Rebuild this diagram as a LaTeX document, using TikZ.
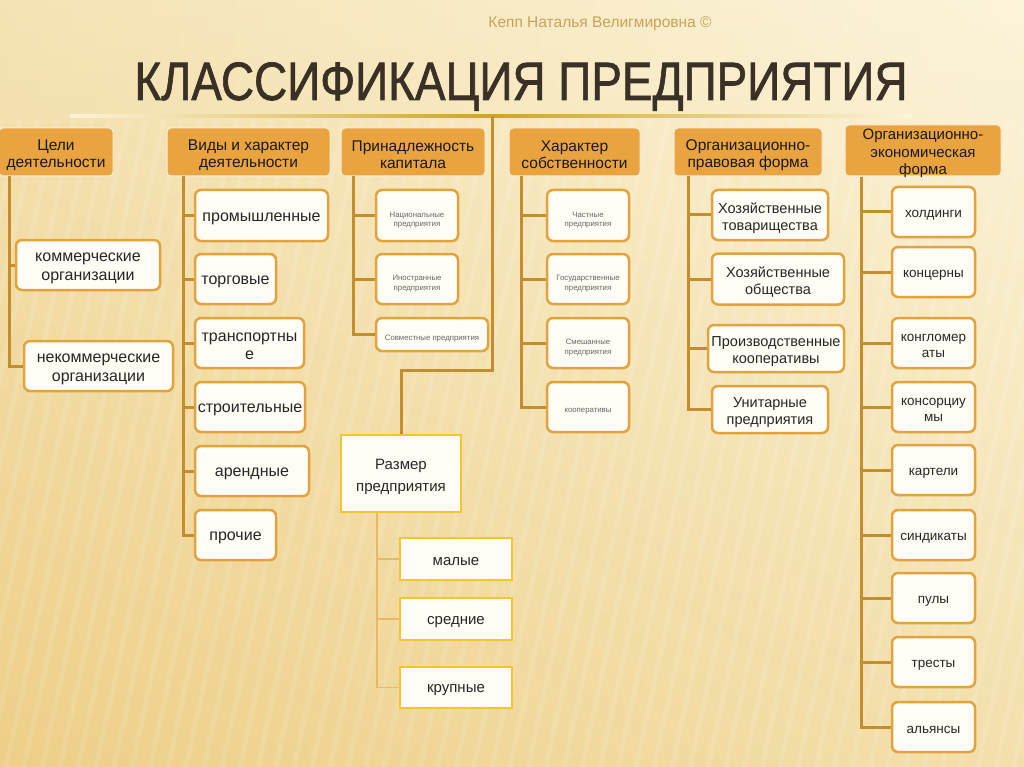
\documentclass[tikz,border=0pt]{standalone}
\usepackage{fontspec}
\setmainfont{Liberation Sans}
\newfontfamily\titlefont{Liberation Sans}[FakeBold=1.3]
\definecolor{hdr}{HTML}{E9A43F}
\definecolor{brd}{HTML}{E2A33E}
\definecolor{ln}{HTML}{C48E2E}
\definecolor{thin}{HTML}{EAB865}
\definecolor{ttl}{HTML}{3A3026}
\definecolor{sub}{HTML}{C9A35A}
\definecolor{ylw}{HTML}{F3C530}
\definecolor{bgtop}{HTML}{FCF4DA}
\definecolor{bgbot}{HTML}{EDCF88}
\definecolor{boxfill}{HTML}{FFFDF6}
% box with separately placed text: style, name, x, y, w, h, text style, text
\newcommand\bx[8]{%
  \node[#1, minimum width=#5, minimum height=#6] (#2) at (#3,#4) {};
  \node[#7] (#2t) at (#3,#4) {#8};}
\begin{document}
\begin{tikzpicture}[x=1pt,y=-1pt,
  hdrbox/.style={draw=white!80!hdr, line width=1pt, fill=hdr, rounded corners=4pt, inner sep=0pt},
  kid/.style={draw=brd, line width=2.5pt, fill=boxfill, rounded corners=6pt, inner sep=0pt},
  sizebox/.style={draw=ylw, line width=2.5pt, fill=boxfill, inner sep=0pt},
  tx/.style={align=center, inner sep=0pt, text=black!85, yshift=-3pt},
  hdrtx/.style={tx, text=black!90, yshift=0pt, font=\fontsize{15.5}{17}\selectfont},
  kidtx/.style={tx, font=\fontsize{16}{19}\selectfont},
  kidmtx/.style={tx, font=\fontsize{14.5}{17}\selectfont},
  kidstx/.style={tx, font=\fontsize{13.5}{15.5}\selectfont},
  tinytx/.style={tx, text=black!60, yshift=-1.5pt, font=\fontsize{7.8}{9.5}\selectfont},
  sizetx/.style={tx, font=\fontsize{15}{22}\selectfont},
  conn/.style={draw=ln, line width=3pt},
  thinconn/.style={draw=thin, line width=1.2pt}
]
% background
\shade[top color=bgtop, bottom color=bgbot] (0,0) rectangle (1024,767);
\shade[left color=bgbot, right color=bgtop, opacity=0.45] (0,0) rectangle (1024,767);
\begin{scope}
\clip (0,0) rectangle (1024,767);
\foreach \i in {-300,-282,...,1024} {
  \draw[white, opacity=0.10, line width=5pt] (\i,767) -- (\i+140,120);
}
\end{scope}
\useasboundingbox (0,0) rectangle (1024,767);

% titles
\node[font=\fontsize{15.5}{16}\selectfont, text=sub, anchor=base] (author) at (600,28)
  {Кепп Наталья Велигмировна ©};
\node[font=\titlefont\fontsize{54}{54}\selectfont, text=ttl, anchor=base, inner sep=0pt] (title) at (521,100)
  {\scalebox{0.85}[1]{КЛАССИФИКАЦИЯ ПРЕДПРИЯТИЯ}};
\shade[left color=bgtop, right color=bgtop, middle color=ln!80!yellow] (70,114.8) rectangle (912,117.2);

% headers
\bx{hdrbox}{h1}{56}{152}{114}{48}{hdrtx}{Цели\\деятельности}
\bx{hdrbox}{h2}{248.5}{152}{163}{48}{hdrtx}{Виды и характер\\деятельности}
\bx{hdrbox}{h3}{413}{152}{144}{48}{hdrtx}{Принадлежность\\капитала}
\bx{hdrbox}{h4}{574.5}{152}{131}{48}{hdrtx}{Характер\\собственности}
\bx{hdrbox}{h5}{748}{152}{148}{48}{hdrtx}{Организационно-\\правовая форма}
\bx{hdrbox}{h6}{923}{150.5}{156}{51}{hdrtx, font=\fontsize{15}{17.5}\selectfont}{Организационно-\\экономическая\\форма}

% column 1
\bx{kid}{a1}{88}{265}{144}{50}{kidtx}{коммерческие\\организации}
\bx{kid}{a2}{98.5}{366}{149}{50}{kidtx}{некоммерческие\\организации}

% column 2
\bx{kid}{b1}{261.5}{215.5}{133}{51}{kidtx}{промышленные}
\bx{kid}{b2}{235.5}{279}{81}{50}{kidtx}{торговые}
\bx{kid}{b3}{249.5}{343}{109}{50}{kidtx, font=\fontsize{16}{18}\selectfont}{транспортны\\е}
\bx{kid}{b4}{250}{407}{110}{50}{kidtx}{строительные}
\bx{kid}{b5}{252}{471}{114}{50}{kidtx}{арендные}
\bx{kid}{b6}{235.5}{535}{81}{50}{kidtx}{прочие}

% column 3
\bx{kid}{c1}{417}{215.5}{82}{51}{tinytx}{Национальные\\предприятия}
\bx{kid}{c2}{417}{279}{82}{50}{tinytx}{Иностранные\\предприятия}
\bx{kid}{c3}{432}{334.5}{112}{33}{tinytx}{Совместные предприятия}

% column 4
\bx{kid}{d1}{588}{215.5}{82}{51}{tinytx}{Частные\\предприятия}
\bx{kid}{d2}{588}{279}{82}{50}{tinytx}{Государственные\\предприятия}
\bx{kid}{d3}{588}{343}{82}{50}{tinytx}{Смешанные\\предприятия}
\bx{kid}{d4}{588}{407}{82}{50}{tinytx}{кооперативы}

% column 5
\bx{kid}{e1}{770}{215}{116}{50}{kidmtx}{Хозяйственные\\товарищества}
\bx{kid}{e2}{778}{279}{132}{51}{kidmtx}{Хозяйственные\\общества}
\bx{kid}{e3}{776}{348.5}{136}{47}{kidmtx}{Производственные\\кооперативы}
\bx{kid}{e4}{770}{409.5}{116}{47}{kidmtx}{Унитарные\\предприятия}

% column 6
\bx{kid}{f1}{933.5}{212}{83}{50}{kidstx}{холдинги}
\bx{kid}{f2}{933.5}{272}{83}{50}{kidstx}{концерны}
\bx{kid}{f3}{933.5}{343}{83}{50}{kidstx}{конгломер\\аты}
\bx{kid}{f4}{933.5}{407}{83}{50}{kidstx}{консорциу\\мы}
\bx{kid}{f5}{933.5}{470}{83}{50}{kidstx}{картели}
\bx{kid}{f6}{933.5}{535}{83}{50}{kidstx}{синдикаты}
\bx{kid}{f7}{933.5}{598}{83}{50}{kidstx}{пулы}
\bx{kid}{f8}{933.5}{662}{83}{50}{kidstx}{тресты}
\bx{kid}{f9}{933.5}{727}{83}{50}{kidstx}{альянсы}

% size of enterprise
\bx{sizebox}{r}{401}{473.5}{120}{77}{sizetx}{Размер\\предприятия}
\bx{sizebox}{g1}{456}{559}{112}{42}{sizetx}{малые}
\bx{sizebox}{g2}{456}{619}{112}{42}{sizetx}{средние}
\bx{sizebox}{g3}{456}{687.5}{112}{41}{sizetx}{крупные}

% trunks
\coordinate (t1) at (9,176);
\coordinate (t2) at (183,176);
\coordinate (t3) at (353,176);
\coordinate (t4) at (521,176);
\coordinate (t5) at (688,176);
\coordinate (t6) at (861,177);
\coordinate (t7) at (377,513);
\coordinate (top) at (492,116);

\foreach \n in {a1,a2} \draw[conn] (t1) |- (\n.west);
\foreach \n in {b1,b2,b3,b4,b5,b6} \draw[conn] (t2) |- (\n.west);
\foreach \n in {c1,c2,c3} \draw[conn] (t3) |- (\n.west);
\foreach \n in {d1,d2,d3,d4} \draw[conn] (t4) |- (\n.west);
\foreach \n in {e1,e2,e3,e4} \draw[conn] (t5) |- (\n.west);
\foreach \n in {f1,f2,f3,f4,f5,f6,f7,f8,f9} \draw[conn] (t6) |- (\n.west);
\foreach \n in {g1,g2,g3} \draw[thinconn] (t7) |- (\n.west);
\draw[conn, line join=miter] (top) -- ++(0,254) -| (r.north);
\end{tikzpicture}
\end{document}
